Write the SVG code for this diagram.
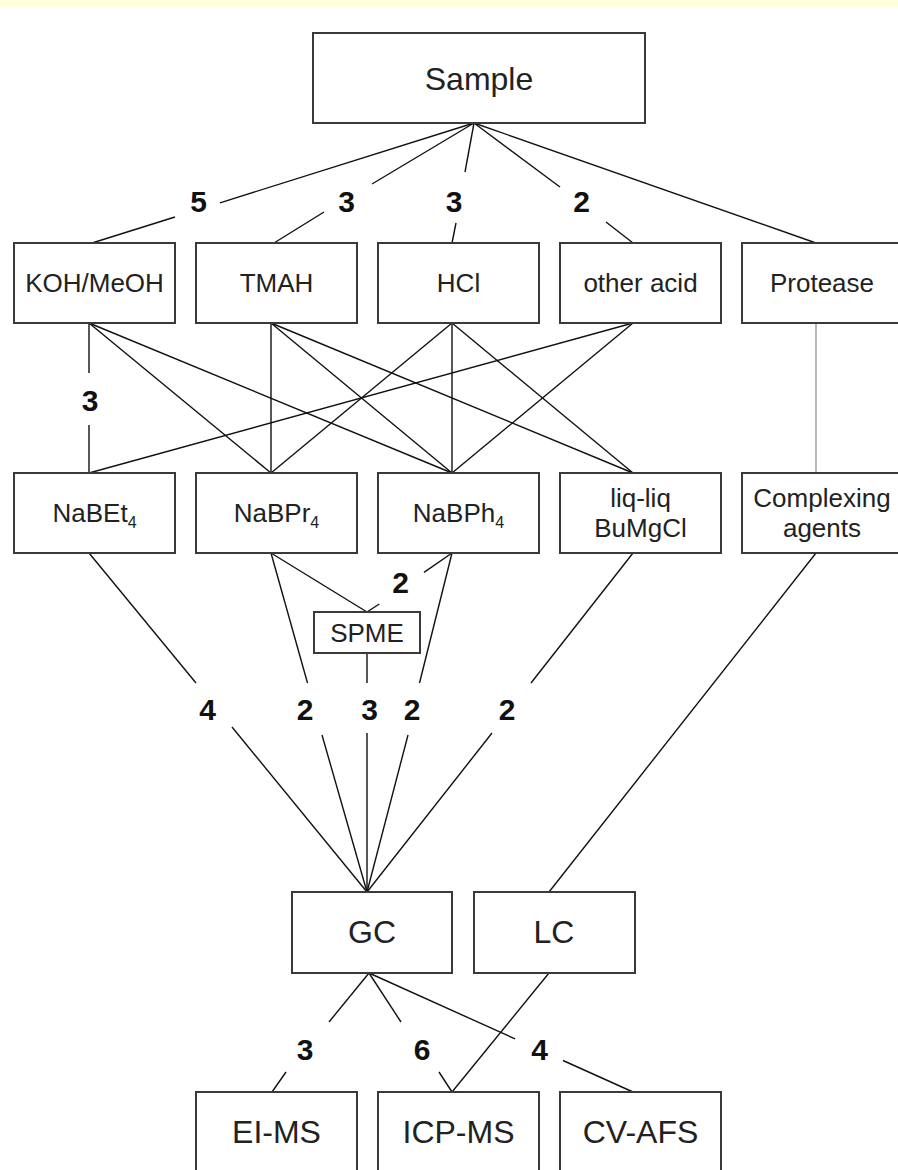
<svg xmlns="http://www.w3.org/2000/svg" width="898" height="1170" viewBox="0 0 898 1170">
<style>
.box{fill:#fff;stroke:#3a3a3a;stroke-width:2}
.t{font-family:"Liberation Sans",Arial,sans-serif;font-size:26px;fill:#222;text-anchor:middle}
.tl{font-family:"Liberation Sans",Arial,sans-serif;font-size:32px;fill:#222;text-anchor:middle}
.num{font-family:"Liberation Sans",Arial,sans-serif;font-size:30px;font-weight:bold;fill:#111;text-anchor:middle}
.ln{stroke:#111;stroke-width:1.4;fill:none}
.lg{stroke:#888;stroke-width:1.2;fill:none}
.sub{font-size:16px}
</style>
<rect x="0" y="0" width="898" height="7" fill="#FFFFDC"/>
<g id="connectors">
<!-- Sample to row 2 -->
<line class="ln" x1="474" y1="123" x2="220" y2="202.8"/>
<line class="ln" x1="175" y1="217" x2="92" y2="243"/>
<line class="ln" x1="474" y1="123" x2="372" y2="184"/>
<line class="ln" x1="324" y1="212" x2="274" y2="243"/>
<line class="ln" x1="474" y1="123" x2="465" y2="172"/>
<line class="ln" x1="456" y1="223" x2="452" y2="243"/>
<line class="ln" x1="474" y1="123" x2="560" y2="187"/>
<line class="ln" x1="606" y1="222" x2="633" y2="243"/>
<line class="ln" x1="474" y1="123" x2="816" y2="243"/>
<!-- row 2 to row 3 -->
<line class="ln" x1="89" y1="323" x2="89" y2="373"/>
<line class="ln" x1="89" y1="425" x2="89" y2="473"/>
<line class="ln" x1="89" y1="323" x2="271" y2="473"/>
<line class="ln" x1="89" y1="323" x2="452" y2="473"/>
<line class="ln" x1="271" y1="323" x2="271" y2="473"/>
<line class="ln" x1="271" y1="323" x2="452" y2="473"/>
<line class="ln" x1="271" y1="323" x2="633" y2="473"/>
<line class="ln" x1="452" y1="323" x2="271" y2="473"/>
<line class="ln" x1="452" y1="323" x2="452" y2="473"/>
<line class="ln" x1="452" y1="323" x2="633" y2="473"/>
<line class="ln" x1="633" y1="323" x2="89" y2="473"/>
<line class="ln" x1="633" y1="323" x2="452" y2="473"/>
<line class="lg" x1="816" y1="323" x2="816" y2="473"/>
<!-- row 3 to GC / SPME / LC -->
<line class="ln" x1="89" y1="553" x2="196" y2="683"/>
<line class="ln" x1="232" y1="727" x2="367" y2="892"/>
<line class="ln" x1="271" y1="553" x2="307.5" y2="683"/>
<line class="ln" x1="322" y1="735" x2="367" y2="892"/>
<line class="ln" x1="271" y1="553" x2="367" y2="612"/>
<line class="ln" x1="452" y1="553" x2="424" y2="572.3"/>
<line class="ln" x1="379.3" y1="604" x2="367" y2="612"/>
<line class="ln" x1="452" y1="553" x2="419.5" y2="683"/>
<line class="ln" x1="408" y1="735" x2="367" y2="892"/>
<line class="ln" x1="367" y1="653" x2="367" y2="683"/>
<line class="ln" x1="367" y1="733" x2="367" y2="892"/>
<line class="ln" x1="633" y1="553" x2="531" y2="683"/>
<line class="ln" x1="492" y1="733" x2="367" y2="892"/>
<line class="ln" x1="816" y1="553" x2="549" y2="892"/>
<!-- GC / LC to detectors -->
<line class="ln" x1="369" y1="973" x2="329" y2="1022"/>
<line class="ln" x1="286" y1="1072" x2="272" y2="1092"/>
<line class="ln" x1="369" y1="973" x2="401" y2="1022"/>
<line class="ln" x1="439" y1="1072" x2="452" y2="1092"/>
<line class="ln" x1="369" y1="973" x2="515" y2="1038.8"/>
<line class="ln" x1="563" y1="1060.5" x2="633" y2="1092"/>
<line class="ln" x1="549" y1="973" x2="452" y2="1092"/>
<g id="labels">
<text class="num" x="198.5" y="212">5</text>
<text class="num" x="346.5" y="212">3</text>
<text class="num" x="454" y="212">3</text>
<text class="num" x="581.5" y="212">2</text>
<text class="num" x="90" y="411">3</text>
<text class="num" x="400.5" y="593">2</text>
<text class="num" x="207.5" y="720">4</text>
<text class="num" x="305" y="720">2</text>
<text class="num" x="369.5" y="720">3</text>
<text class="num" x="412" y="720">2</text>
<text class="num" x="507" y="720">2</text>
<text class="num" x="305" y="1060">3</text>
<text class="num" x="422" y="1060">6</text>
<text class="num" x="539.5" y="1060">4</text>
</g>
</g>
<g id="sample"><rect class="box" x="313" y="33" width="332" height="90"/><text class="tl" x="479" y="90">Sample</text></g>
<g id="koh"><rect class="box" x="14" y="243" width="161" height="80"/><text class="t" x="94.5" y="292">KOH/MeOH</text></g>
<g id="tmah"><rect class="box" x="196" y="243" width="161" height="80"/><text class="t" x="276.5" y="292">TMAH</text></g>
<g id="hcl"><rect class="box" x="378" y="243" width="161" height="80"/><text class="t" x="458.5" y="292">HCl</text></g>
<g id="otheracid"><rect class="box" x="560" y="243" width="161" height="80"/><text class="t" x="640.5" y="292">other acid</text></g>
<g id="protease"><rect class="box" x="742" y="243" width="161" height="80"/><text class="t" x="822" y="292">Protease</text></g>
<g id="nabet4"><rect class="box" x="14" y="473" width="161" height="80"/><text class="t" x="94.5" y="522">NaBEt<tspan class="sub" dy="6">4</tspan></text></g>
<g id="nabpr4"><rect class="box" x="196" y="473" width="161" height="80"/><text class="t" x="276.5" y="522">NaBPr<tspan class="sub" dy="6">4</tspan></text></g>
<g id="nabph4"><rect class="box" x="378" y="473" width="161" height="80"/><text class="t" x="458.5" y="522">NaBPh<tspan class="sub" dy="6">4</tspan></text></g>
<g id="liqliq"><rect class="box" x="560" y="473" width="161" height="80"/><text class="t" x="640.5" y="507">liq-liq</text><text class="t" x="640.5" y="537">BuMgCl</text></g>
<g id="complexing"><rect class="box" x="742" y="473" width="161" height="80"/><text class="t" x="822" y="507">Complexing</text><text class="t" x="822" y="537">agents</text></g>
<g id="spme"><rect class="box" x="314" y="612" width="106" height="41"/><text class="t" x="367" y="642">SPME</text></g>
<g id="gc"><rect class="box" x="292" y="892" width="160" height="81"/><text class="tl" x="372" y="943">GC</text></g>
<g id="lc"><rect class="box" x="474" y="892" width="161" height="81"/><text class="tl" x="554" y="943">LC</text></g>
<g id="eims"><rect class="box" x="196" y="1092" width="161" height="82"/><text class="tl" x="276.5" y="1143">EI-MS</text></g>
<g id="icpms"><rect class="box" x="378" y="1092" width="161" height="82"/><text class="tl" x="458.5" y="1143">ICP-MS</text></g>
<g id="cvafs"><rect class="box" x="560" y="1092" width="161" height="82"/><text class="tl" x="640.5" y="1143">CV-AFS</text></g>
</svg>
